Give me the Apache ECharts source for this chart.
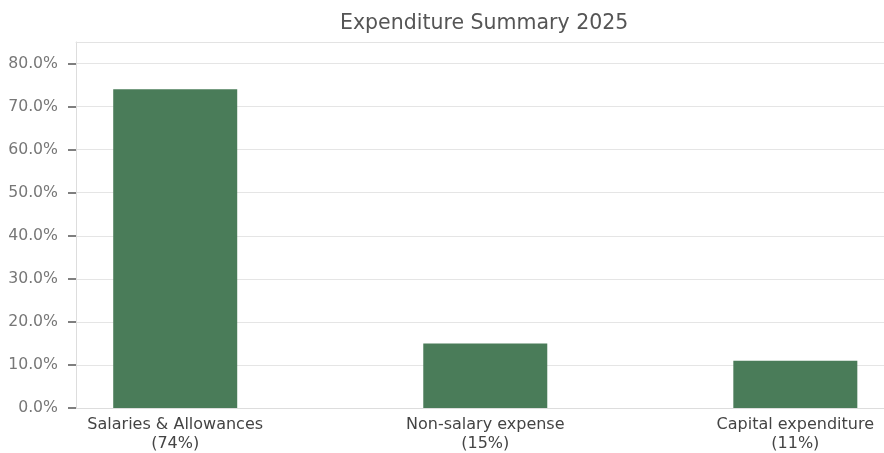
<!DOCTYPE html>
<html>
<head>
<meta charset="utf-8">
<script src="https://cdn.jsdelivr.net/npm/echarts@6/dist/echarts.min.js"></script>
<style>
  html, body { margin: 0; padding: 0; background: #fff; }
  #main { width: 884px; height: 453px; }
</style>
</head>
<body>
<div id="main"></div>
<script>
// data
var categories = ['Salaries & Allowances', 'Non-salary expense', 'Capital expenditure'];
var shares = [74, 15, 11];
var yTicks = [0, 10, 20, 30, 40, 50, 60, 70, 80];

var myChart = echarts.init(document.getElementById('main'));

var barData = shares.map(function (v, i) { return [i, v]; });
var font = '"DejaVu Sans", sans-serif';

var option = {
  animation: false,
  textStyle: { fontFamily: font },
  title: {
    text: 'Expenditure Summary 2025',
    left: 335,
    top: 8,
    textStyle: { fontSize: 20.5, fontWeight: 'normal', color: '#555555', fontFamily: font }
  },
  grid: { left: 76, right: 0, top: 42, bottom: 44 },
  xAxis: [
    {
      type: 'value',
      min: -0.32,
      max: 2.286,
      splitLine: { show: false },
      axisTick: { show: false },
      axisLine: { show: true, onZero: false, lineStyle: { color: '#dddddd', width: 1 } },
      axisLabel: {
        customValues: [0, 1, 2],
        color: '#444444',
        fontFamily: font,
        fontSize: 16,
        lineHeight: 19,
        margin: 7,
        formatter: function (v) {
          var i = Math.round(v);
          return categories[i] + '\n(' + shares[i] + '%)';
        }
      }
    },
    {
      type: 'value',
      position: 'top',
      min: -0.32,
      max: 2.286,
      splitLine: { show: false },
      axisTick: { show: false },
      axisLabel: { show: false },
      axisLine: { show: true, onZero: false, lineStyle: { color: '#e3e3e3', width: 1 } }
    }
  ],
  yAxis: {
    type: 'value',
    min: 0,
    max: 85,
    interval: 10,
    axisLine: { show: true, onZero: false, lineStyle: { color: '#dddddd' } },
    axisTick: { show: true, customValues: yTicks, length: 8, lineStyle: { color: '#555555', width: 1.5 } },
    splitLine: { show: true, lineStyle: { color: '#e5e5e5', width: 1 } },
    axisLabel: {
      customValues: yTicks,
      color: '#777777',
      fontFamily: font,
      fontSize: 15.7,
      margin: 18,
      formatter: function (v) {
        return v.toFixed(1) + '%';
      }
    }
  },
  series: [
    {
      type: 'bar',
      data: barData,
      barWidth: 124,
      itemStyle: { color: '#4a7c59' }
    }
  ]
};

myChart.setOption(option);
</script>
</body>
</html>
